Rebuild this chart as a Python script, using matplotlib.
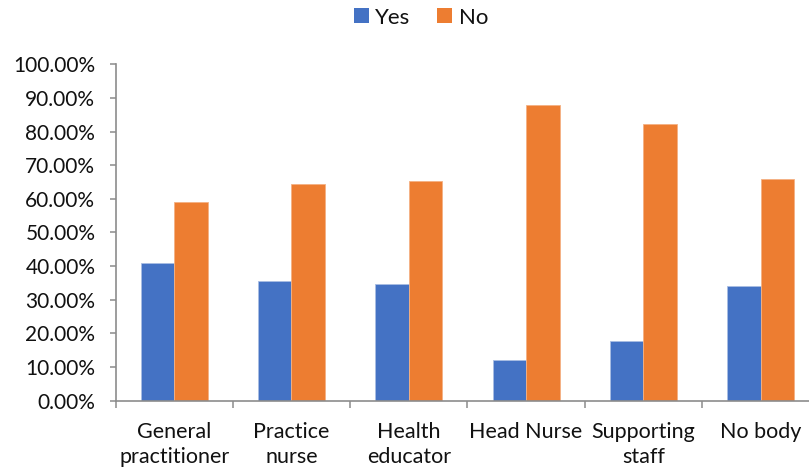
import matplotlib
matplotlib.use("Agg")
import matplotlib.pyplot as plt
import numpy as np
from matplotlib.patches import Patch
from matplotlib.ticker import FuncFormatter, MultipleLocator, FixedLocator

plt.rcParams['font.family'] = ['Lato', 'DejaVu Sans']

categories = ["General\npractitioner", "Practice\nnurse", "Health\neducator",
              "Head Nurse", "Supporting\nstaff", "No body"]
yes_values = [40.8, 35.5, 34.6, 12.1, 17.6, 34.1]
no_values = [59.2, 64.5, 65.4, 87.9, 82.4, 65.9]
series_names = ["Yes", "No"]
colors = ["#4472C4", "#ED7D31"]

W, H = 809, 473
fig = plt.figure(figsize=(W / 100, H / 100), dpi=100)
ax = fig.add_axes([115.5 / W, 1 - 400.7 / H, 1 - 115.5 / W, (400.7 - 64.3) / H])

x = np.arange(len(categories))
bw = 0.286
ax.bar(x - bw / 2, yes_values, bw, color=colors[0], edgecolor='#a9bde3', linewidth=0.6)
ax.bar(x + bw / 2, no_values, bw, color=colors[1], edgecolor='#f4b183', linewidth=0.6)

ax.set_ylim(0, 100)
ax.set_xlim(-0.5, -0.5 + (W - 115.5) / 117.3)
ax.yaxis.set_major_locator(MultipleLocator(10))
ax.yaxis.set_major_formatter(FuncFormatter(lambda v, p: f"{v:.2f}%"))

ax.set_xticks(x)
ax.set_xticklabels(categories, linespacing=1.35)
ax.xaxis.set_minor_locator(FixedLocator(np.arange(-0.5, len(categories), 1.0)))

spine_c = '#8c8c8c'
for s in ['top', 'right']:
    ax.spines[s].set_visible(False)
for s in ['left', 'bottom']:
    ax.spines[s].set_color(spine_c)
    ax.spines[s].set_linewidth(1.2)

ax.tick_params(axis='y', which='major', length=4.5, width=1.1, color=spine_c,
               labelsize=15, pad=10, labelcolor='#111111')
ax.tick_params(axis='x', which='major', length=0, labelsize=15.5, pad=15,
               labelcolor='#111111')
ax.tick_params(axis='x', which='minor', length=5, width=1.1, color=spine_c)

handles = [Patch(facecolor=colors[0]), Patch(facecolor=colors[1])]
fig.legend(handles, series_names, loc='center', bbox_to_anchor=(421 / W, 1 - 17.5 / H),
           ncol=2, frameon=False, fontsize=16, handlelength=0.66, handleheight=0.66,
           handletextpad=0.3, columnspacing=1.2, labelcolor='#111111')

fig.savefig("out.png", dpi=100)
